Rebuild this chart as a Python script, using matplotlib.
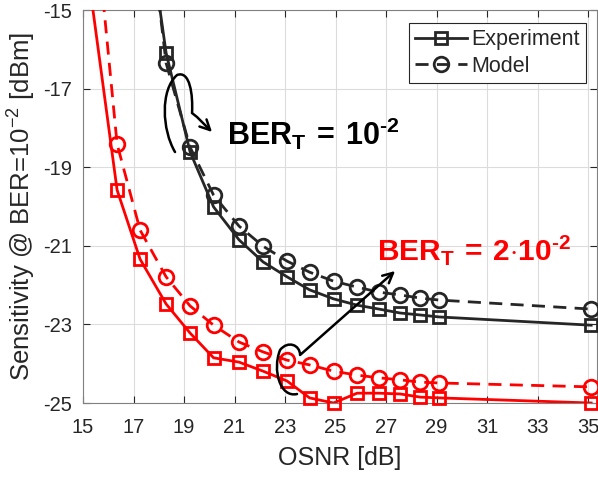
import matplotlib
matplotlib.use("Agg")
import matplotlib.pyplot as plt
from matplotlib.path import Path
from matplotlib.patches import FancyArrowPatch
from matplotlib.lines import Line2D

plt.rcParams['font.family'] = ['Liberation Sans', 'DejaVu Sans']
plt.rcParams['mathtext.fontset'] = 'custom'
plt.rcParams['mathtext.rm'] = 'Liberation Sans'
plt.rcParams['mathtext.bf'] = 'Liberation Sans:bold'
plt.rcParams['axes.unicode_minus'] = False

# OSNR points (red curves use all, black curves start at the 3rd)
osnr = [16.35, 17.26, 18.29, 19.24, 20.17, 21.18, 22.13, 23.08, 23.97,
        24.92, 25.85, 26.72, 27.56, 28.35, 29.1, 35.12]

black_exp = [-16.09, -18.61, -20.01, -20.85, -21.41, -21.79, -22.12, -22.35,
             -22.51, -22.61, -22.71, -22.76, -22.81, -23.02]
black_mod = [-16.35, -18.49, -19.71, -20.50, -21.01, -21.39, -21.67, -21.90,
             -22.05, -22.18, -22.25, -22.33, -22.38, -22.61]
red_exp = [-19.58, -21.34, -22.48, -23.22, -23.85, -23.96, -24.19, -24.44,
           -24.87, -25.0, -24.75, -24.75, -24.77, -24.85, -24.87, -25.0]
red_mod = [-18.41, -20.60, -21.79, -22.53, -23.02, -23.45, -23.70, -23.91,
           -24.03, -24.19, -24.29, -24.36, -24.41, -24.47, -24.49, -24.59]

# where each curve leaves the top of the plot
lead_in = {'black_exp': (17.94, -14.5), 'black_mod': (17.95, -14.5),
           'red_exp': (15.29, -14.5), 'red_mod': (15.76, -14.5)}

dark = '#262626'
lw = 2
dash = (4.7, 3)

fig = plt.figure(figsize=(5.98, 4.78), dpi=100)
ax = fig.add_axes([0.1388, 0.1569, 0.8595, 0.8221])


def curve(x, y, start, color, marker, dashed):
    xs = [start[0]] + list(x)
    ys = [start[1]] + list(y)
    line, = ax.plot(xs, ys, color=color, lw=lw, zorder=3)
    if dashed:
        line.set_dashes(dash)
    ax.plot(x, y, ls='none', marker=marker, ms=9 if marker == 's' else 10.5,
            mfc='none', mec=color, mew=2, clip_on=False, zorder=4)


curve(osnr[2:], black_exp, lead_in['black_exp'], dark, 's', False)
curve(osnr[2:], black_mod, lead_in['black_mod'], dark, 'o', True)
curve(osnr, red_exp, lead_in['red_exp'], 'red', 's', False)
curve(osnr, red_mod, lead_in['red_mod'], 'red', 'o', True)

ax.set_xlim(15, 35.35)
ax.set_ylim(-25, -15)
ax.set_xticks(range(15, 36, 2))
ax.set_yticks(range(-25, -14, 2))
ax.grid(True, color='#dcdcdc', lw=0.8)
ax.set_axisbelow(True)
ax.tick_params(direction='in', top=True, right=True, labelsize=14.5,
               colors=dark, length=5)
ax.tick_params(axis='x', pad=10.5)
ax.tick_params(axis='y', pad=8)
for s in ax.spines.values():
    s.set_color('#808080')
ax.set_xlabel('OSNR [dB]', fontsize=18, color=dark, labelpad=7)
ax.set_ylabel(r'Sensitivity @ BER=10$^{-2}$ [dBm]', fontsize=18.5,
              color=dark, labelpad=4)

# legend
h1 = Line2D([], [], color=dark, lw=lw, marker='s', ms=9, mfc='none', mew=2)
h2 = Line2D([], [], color=dark, lw=lw, marker='o', ms=10.5, mfc='none', mew=2,
            dashes=dash)
leg = ax.legend([h1, h2], ['Experiment', 'Model'], loc='upper right',
                fontsize=15.5, handlelength=2.4, handletextpad=0.2,
                borderpad=0.3, labelspacing=0.25, fancybox=False,
                edgecolor=dark, framealpha=1, bbox_to_anchor=(0.9995, 0.995))
leg.get_frame().set_linewidth(0.8)
for t in leg.get_texts():
    t.set_color(dark)

# annotations
ax.text(20.72, -18.435, '$\\mathbf{BER_{T}\\,=\\,10^{\u20102}}$', fontsize=22,
        color='black', va='baseline', ha='left')
ax.text(26.66, -21.36, '$\\mathbf{BER_{T}\\,=\\,2{\\cdot}10^{\u20102}}$',
        fontsize=21.5, color='red', va='baseline', ha='left')


def px(x, y):
    return (15 + (x - 83) / 25.25, -15 - (y - 10) / 39.3)


loop = Path([px(175, 152), px(162, 130), px(160, 90), px(177, 75),
             px(190, 70), px(193, 95), px(192, 113),
             px(197, 117), px(197, 117), px(212, 132)],
            [Path.MOVETO, Path.CURVE4, Path.CURVE4, Path.CURVE4,
             Path.CURVE4, Path.CURVE4, Path.CURVE4,
             Path.LINETO, Path.LINETO, Path.LINETO])
ax.add_patch(FancyArrowPatch(path=loop, arrowstyle='->', mutation_scale=18,
                             lw=1.8, color='black', zorder=5))

bracket = Path([px(297, 394), px(280, 398), px(272, 370), px(280, 350),
                px(288, 340), px(300, 345), px(300, 355),
                px(395, 271)],
               [Path.MOVETO, Path.CURVE4, Path.CURVE4, Path.CURVE4,
                Path.CURVE4, Path.CURVE4, Path.CURVE4,
                Path.LINETO])
ax.add_patch(FancyArrowPatch(path=bracket, arrowstyle='->', mutation_scale=18,
                             lw=1.8, color='black', zorder=5))

fig.savefig('out.png', dpi=100)
